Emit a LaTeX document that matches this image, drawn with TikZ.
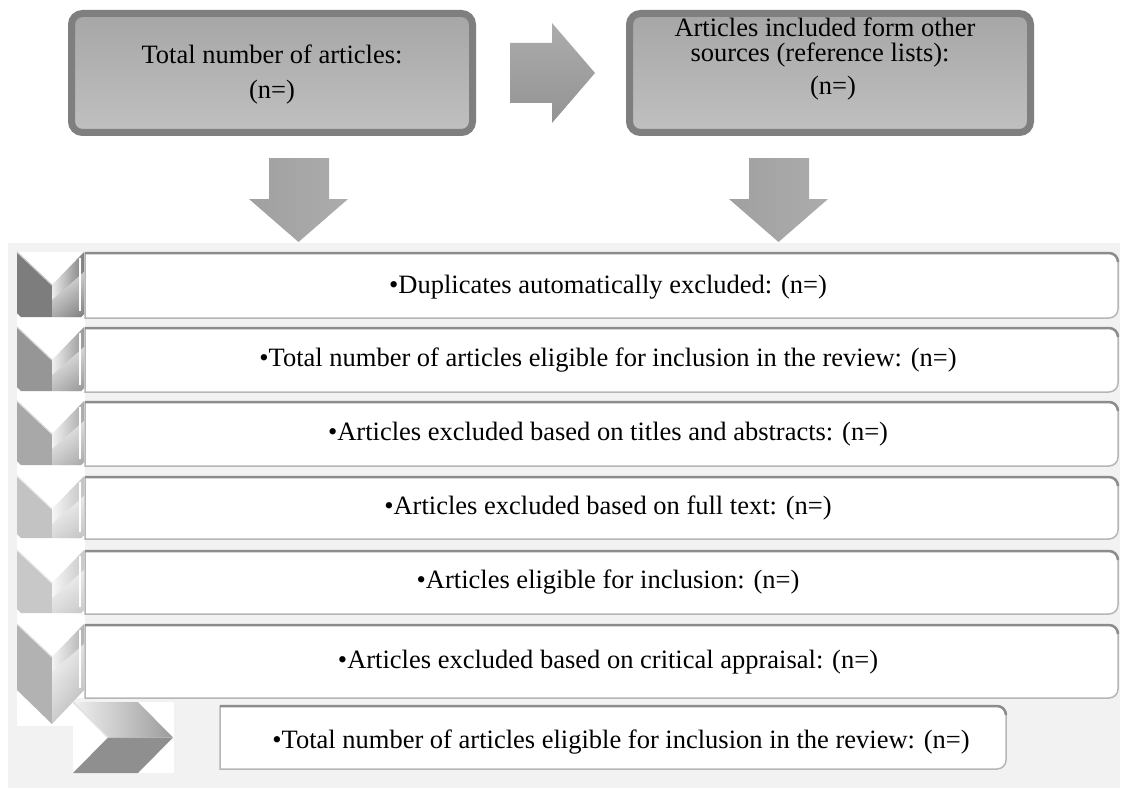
\documentclass[tikz,border=0pt]{standalone}
\usepackage{fontspec}
\setmainfont{Liberation Serif}
\definecolor{bord}{RGB}{127,127,127}
\definecolor{boxtop}{RGB}{166,166,166}
\definecolor{boxbot}{RGB}{192,192,192}
\definecolor{panel}{RGB}{242,242,242}
\definecolor{rowline}{RGB}{182,182,182}
\definecolor{rowtopc}{RGB}{140,140,140}
\definecolor{cA}{RGB}{125,125,125}
\definecolor{cB}{RGB}{150,150,150}
\definecolor{cC}{RGB}{168,168,168}
\definecolor{cD}{RGB}{195,195,195}
\definecolor{cE}{RGB}{200,200,200}
\definecolor{cF}{RGB}{178,178,178}
\definecolor{cG}{RGB}{155,155,155}
\definecolor{arrL}{RGB}{160,160,160}
\definecolor{arrR}{RGB}{172,172,172}
\newcommand\chevdown[3]{%
  \fill[#3] (17,#1) -- (52,#1+33) -- (52,#2) -- (21,#2) -- (17,#2-4) -- cycle;
  \shade[left color=white!85!#3, right color=#3] (52,#1+33) -- (84,#1) -- (84,#2-3) -- (81,#2) -- (52,#2) -- cycle;
  \shade[top color=#3!0!white, bottom color=#3, opacity=0.6] (52,#1+48) -- (84,#1+20) -- (84,#2-3) -- (81,#2) -- (52,#2) -- cycle;
  \draw[white!60!#3, line width=1.2pt] (17,#1) -- (52,#1+33);
  \draw[white, line width=1.5pt] (80,#1+6) -- (80,#2-6);
}
\newcommand\rowframe[4]{%
  \path[rowbox] (#1,#3) -- (#2-9,#3) .. controls (#2-4,#3) and (#2,#3+4) .. (#2,#3+9) -- (#2,#4-9) .. controls (#2,#4-4) and (#2-4,#4) .. (#2-9,#4) -- (#1,#4) -- cycle;
  \draw[rowtopline] (#1,#3) -- (#2-9,#3) .. controls (#2-4,#3) and (#2,#3+4) .. (#2,#3+9);
}
\begin{document}
\begin{tikzpicture}[x=1pt,y=-1pt,
  topbox/.style={draw=bord, line width=7pt, rounded corners=11pt, top color=boxtop, bottom color=boxbot, minimum width=401pt, minimum height=119pt, inner sep=0pt},
  txt/.style={font=\fontsize{26.5}{30}\selectfont, inner sep=0pt, anchor=base},
  rowbox/.style={fill=white, draw=rowline, line width=1.5pt},
  rowtopline/.style={draw=rowtopc, line width=2.5pt},
  blockarrow/.style={left color=arrL, right color=arrR}
]
\useasboundingbox (0,0) rectangle (1121,789);
\fill[white] (0,0) rectangle (1121,789);

% top boxes
\node[topbox] (tl) at (272,73) {};
\node[topbox] (tr) at (830,73) {};
\node[txt] (tlA) at (272,64) {Total number of articles:};
\node[txt] (tlB) at (272,99) {(n=)};
\node[txt] (trA) at (825,37) {Articles included form other};
\node[txt] (trB) at (820,62) {sources (reference lists):};
\node[txt] (trC) at (833,95) {(n=)};

% right block arrow
\shade[top color=arrR, bottom color=arrL!92!black] (510,43) -- (552,43) -- (552,23) -- (595,73) -- (552,123) -- (552,103) -- (510,103) -- cycle;

% panel
\fill[panel] (8,243) rectangle (1120,788);

% down block arrows
\shade[blockarrow] (269,158) -- (329,158) -- (329,199) -- (348,199) -- (298.5,242) -- (249,199) -- (269,199) -- cycle;
\shade[blockarrow] (749,158) -- (809,158) -- (809,199) -- (828,199) -- (778.5,242) -- (729,199) -- (749,199) -- cycle;

% white backgrounds of chevrons
\fill[white] (17,252) rectangle (85,698);
\fill[white] (17,698) rectangle (73,726);
\fill[white] (73,702) rectangle (174,773);

% row frames
\rowframe{85}{1118}{253}{318}
\rowframe{85}{1118}{328}{392}
\rowframe{85}{1118}{402}{466}
\rowframe{85}{1118}{477}{539}
\rowframe{85}{1118}{551}{614}
\rowframe{85}{1118}{625}{698}
\rowframe{220}{1006}{706}{769}

% chevrons
\chevdown{252}{317}{cA}
\chevdown{327}{391}{cB}
\chevdown{401}{465}{cC}
\chevdown{476}{538}{cD}
\chevdown{550}{613}{cE}
% last down chevron with point
\fill[cF] (17,624) -- (52,657) -- (52,724) -- (17,690) -- cycle;
\shade[left color=white!85!cF, right color=cF] (52,657) -- (84,624) -- (84,690) -- (52,724) -- cycle;
\shade[top color=white, bottom color=cF, opacity=0.6] (52,672) -- (84,644) -- (84,690) -- (52,724) -- cycle;
\draw[white!60!cF, line width=1.2pt] (17,624) -- (52,657);
\draw[white, line width=1.5pt] (80,630) -- (80,688);
% right chevron
\shade[left color=white!85!cG, right color=cG] (73,702) -- (138,702) -- (173,737.5) -- (108,737.5) -- cycle;
\fill[cG!92!black] (108,737.5) -- (173,737.5) -- (138,773) -- (73,773) -- cycle;
\draw[white!70!cG, line width=1.5pt] (73,702) -- (108,737.5);

% row texts
\node[txt] (r1) at (608,293.5) {•Duplicates automatically excluded: (n=)};
\node[txt] (r2) at (608,366.5) {•Total number of articles eligible for inclusion in the review: (n=)};
\node[txt] (r3) at (608,440.5) {•Articles excluded based on titles and abstracts: (n=)};
\node[txt] (r4) at (608,514.5) {•Articles excluded based on full text: (n=)};
\node[txt] (r5) at (608,588.5) {•Articles eligible for inclusion: (n=)};
\node[txt] (r6) at (608,668) {•Articles excluded based on critical appraisal: (n=)};
\node[txt] (r7) at (621,748.5) {•Total number of articles eligible for inclusion in the review: (n=)};
\end{tikzpicture}
\end{document}
